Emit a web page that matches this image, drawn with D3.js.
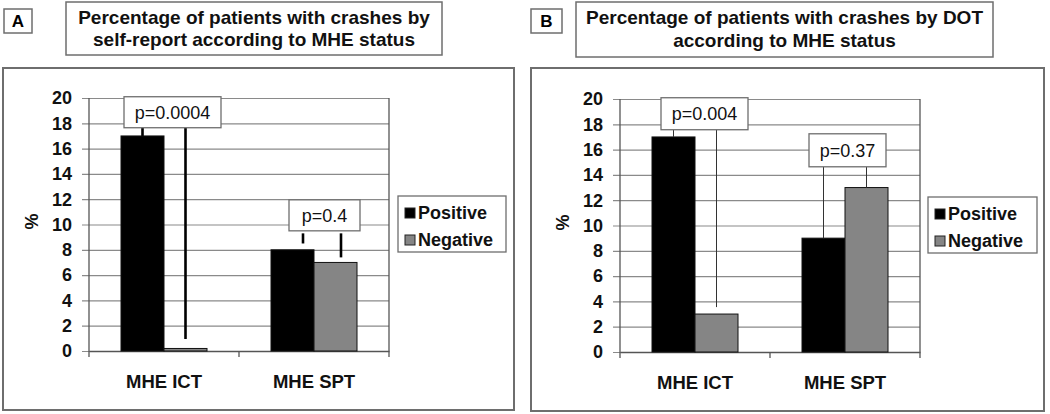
<!DOCTYPE html>
<html><head><meta charset="utf-8">
<script src="https://cdn.jsdelivr.net/npm/d3@7"></script>
<style>
html,body{margin:0;padding:0;background:#fff;}
svg{display:block;font-family:"Liberation Sans",Arial,sans-serif;}
</style></head>
<body><svg id="c" width="1050" height="414"></svg>
<script>
// ---------- data ----------
const categories = ["MHE ICT", "MHE SPT"];
const seriesNames = ["Positive", "Negative"];
const yTicks = [0, 2, 4, 6, 8, 10, 12, 14, 16, 18, 20];
// Panel A: self-report crashes (%)
const selfReportPositive = [17, 8];
const selfReportNegative = [0.2, 7];
// Panel B: DOT crashes (%)
const dotPositive = [17, 9];
const dotNegative = [3, 13];
// p-value labels per category
const selfReportP = ["p=0.0004", "p=0.4"];
const dotP = ["p=0.004", "p=0.37"];
// connector line ends (value) [positive, negative] per category
const selfReportLineEnds = [[17, 0.95], [8.5, 7.4]];
const dotLineEnds = [[17, 3.55], [9, 13]];
const panelLetters = ["A", "B"];
const titlesA = ["Percentage of patients with crashes by", "self-report according to MHE status"];
const titlesB = ["Percentage of patients with crashes by DOT", "according to MHE status"];

// ---------- layout ----------
const panels = [
  {letter: panelLetters[0], titles: titlesA, pos: selfReportPositive, neg: selfReportNegative,
   p: selfReportP, ends: selfReportLineEnds,
   letterBox: [4, 9, 28, 24], titleBox: [66, 2, 376, 53], titleBase: [23.5, 45.5],
   outer: [3, 68, 511, 342], plot: {x0: 89, x1: 389, y0: 351, y1: 98},
   legend: [398, 196, 108, 56],
   boxes: [{dx: 8.5, top: 20.1, w: 97, h: 31, lineTop: null},
           {dx: 10.5, top: 11.95, w: 71, h: 31, lineTop: 9.3}],
   lineX: [[0, 0], [10.5, 5.5]],
   lineW: 2.6, lineColor: "#000"},
  {letter: panelLetters[1], titles: titlesB, pos: dotPositive, neg: dotNegative,
   p: dotP, ends: dotLineEnds,
   letterBox: [531, 9, 31, 24], titleBox: [576, 2, 417, 55], titleBase: [24, 47],
   outer: [531, 68, 513, 343], plot: {x0: 620, x1: 920, y0: 352, y1: 99},
   legend: [928, 197, 109, 56],
   boxes: [{dx: 9.5, top: 20.1, w: 87, h: 32, lineTop: null},
           {dx: 2.5, top: 17.25, w: 77, h: 33, lineTop: null}],
   lineX: [[0, 0], [0, 0]],
   lineW: 1, lineColor: "#333"}
];

const svg = d3.select("#c");
const gridColor = "#8a8a8a";
const boxColor = "#6e6e6e";
const posFill = "#000";
const negFill = "#858585";

panels.forEach(P => {
  const g = svg.append("g");
  // outer chart box
  g.append("rect").attr("x", P.outer[0]).attr("y", P.outer[1]).attr("width", P.outer[2]).attr("height", P.outer[3])
    .attr("fill", "#fff").attr("stroke", boxColor).attr("stroke-width", 2);
  // letter box
  g.append("rect").attr("x", P.letterBox[0]).attr("y", P.letterBox[1]).attr("width", P.letterBox[2]).attr("height", P.letterBox[3])
    .attr("fill", "#fff").attr("stroke", boxColor).attr("stroke-width", 1.5);
  g.append("text").attr("x", P.letterBox[0] + P.letterBox[2] / 2).attr("y", P.letterBox[1] + 18)
    .attr("text-anchor", "middle").attr("font-weight", "bold").attr("font-size", 17).text(P.letter);
  // title box
  g.append("rect").attr("x", P.titleBox[0]).attr("y", P.titleBox[1]).attr("width", P.titleBox[2]).attr("height", P.titleBox[3])
    .attr("fill", "#fff").attr("stroke", boxColor).attr("stroke-width", 1.5);
  P.titles.forEach((t, i) => {
    g.append("text").attr("x", P.titleBox[0] + P.titleBox[2] / 2).attr("y", P.titleBase[i])
      .attr("text-anchor", "middle").attr("font-weight", "bold").attr("font-size", 19).attr("fill", "#111").text(t);
  });

  const y = d3.scaleLinear().domain([0, 20]).range([P.plot.y0, P.plot.y1]);
  const x = d3.scaleBand().domain(categories).range([P.plot.x0, P.plot.x1]).paddingInner(0).paddingOuter(0);
  const bw = x.bandwidth();
  const xs = d3.scaleBand().domain(seriesNames).range([bw / 2 - 43, bw / 2 + 43]).padding(0);

  // gridlines (with left tick extension)
  const yAxis = d3.axisLeft(y).tickValues(yTicks).tickSize(-(P.plot.x1 - P.plot.x0)).tickPadding(0).tickFormat("");
  const ga = g.append("g").attr("transform", `translate(${P.plot.x0},0)`).call(yAxis);
  ga.select(".domain").remove();
  ga.selectAll(".tick line").attr("stroke", gridColor).attr("stroke-width", 1.2).attr("x1", -7);
  // tick labels
  g.selectAll(".ylab").data(yTicks).join("text")
    .attr("x", P.plot.x0 - 17).attr("y", d => y(d) + 6.3)
    .attr("text-anchor", "end").attr("font-weight", "bold").attr("font-size", 18).attr("fill", "#111").text(d => d);
  // y axis line
  g.append("line").attr("x1", P.plot.x0).attr("x2", P.plot.x0).attr("y1", y(20)).attr("y2", y(0) + 6)
    .attr("stroke", "#555").attr("stroke-width", 1.3);
  // right border line
  g.append("line").attr("x1", P.plot.x1).attr("x2", P.plot.x1).attr("y1", y(20)).attr("y2", y(0) + 6)
    .attr("stroke", "#555").attr("stroke-width", 1.3);
  // x axis
  const xAxis = d3.axisBottom(x).tickSize(0).tickFormat("");
  const gx = g.append("g").attr("transform", `translate(0,${y(0)})`).call(xAxis);
  gx.select(".domain").attr("stroke", "#555").attr("stroke-width", 1.3);
  gx.selectAll(".tick").remove();
  g.append("line").attr("x1", x(categories[1])).attr("x2", x(categories[1])).attr("y1", y(0)).attr("y2", y(0) + 6)
    .attr("stroke", "#555").attr("stroke-width", 1.3);
  // category labels
  g.selectAll(".clab").data(categories).join("text")
    .attr("x", d => x(d) + bw / 2).attr("y", y(0) + 36.5)
    .attr("text-anchor", "middle").attr("font-weight", "bold").attr("font-size", 18.5).attr("fill", "#111").text(d => d);
  // % label
  const px = P.plot.x0 - 57, py = (y(0) + y(20)) / 2 - 3;
  g.append("text").attr("transform", `translate(${px + 6},${py}) rotate(-90)`)
    .attr("text-anchor", "middle").attr("font-weight", "bold").attr("font-size", 18).attr("fill", "#111").text("%");

  // bars
  const rows = categories.map((c, i) => ({cat: c, vals: [P.pos[i], P.neg[i]]}));
  const gb = g.selectAll(".grp").data(rows).join("g").attr("transform", d => `translate(${x(d.cat)},0)`);
  gb.selectAll("rect").data(d => d.vals.map((v, j) => ({s: seriesNames[j], v}))).join("rect")
    .attr("x", d => xs(d.s)).attr("width", xs.bandwidth())
    .attr("y", d => y(d.v)).attr("height", d => y(0) - y(d.v))
    .attr("fill", d => d.s === "Positive" ? posFill : negFill)
    .attr("stroke", "#111").attr("stroke-width", 1);

  // p-value boxes and connector lines
  categories.forEach((c, i) => {
    const b = P.boxes[i];
    const cx = x(c) + bw / 2 + b.dx;
    const top = y(b.top);
    const bottom = top + b.h;
    const lt = b.lineTop == null ? bottom : y(b.lineTop);
    seriesNames.forEach((s, j) => {
      const lx = x(c) + xs(s) + xs.bandwidth() / 2 + P.lineX[i][j];
      g.append("line").attr("x1", lx).attr("x2", lx).attr("y1", lt).attr("y2", y(P.ends[i][j]))
        .attr("stroke", P.lineColor).attr("stroke-width", P.lineW);
    });
    g.append("rect").attr("x", cx - b.w / 2).attr("y", top).attr("width", b.w).attr("height", b.h)
      .attr("fill", "#fff").attr("stroke", boxColor).attr("stroke-width", 1.3);
    g.append("text").attr("x", cx).attr("y", top + b.h / 2 + 6.5)
      .attr("text-anchor", "middle").attr("font-size", 18).attr("fill", "#111").text(P.p[i]);
  });

  // legend
  const L = P.legend;
  g.append("rect").attr("x", L[0]).attr("y", L[1]).attr("width", L[2]).attr("height", L[3])
    .attr("fill", "#fff").attr("stroke", boxColor).attr("stroke-width", 1.3);
  seriesNames.forEach((s, j) => {
    const yy = L[1] + 12 + j * 27;
    g.append("rect").attr("x", L[0] + 7).attr("y", yy).attr("width", 10).attr("height", 10)
      .attr("fill", j === 0 ? posFill : negFill).attr("stroke", "#222").attr("stroke-width", 1);
    g.append("text").attr("x", L[0] + 20).attr("y", yy + 10.5)
      .attr("font-weight", "bold").attr("font-size", 18).attr("fill", "#111").text(s);
  });
});
</script>
</body></html>
